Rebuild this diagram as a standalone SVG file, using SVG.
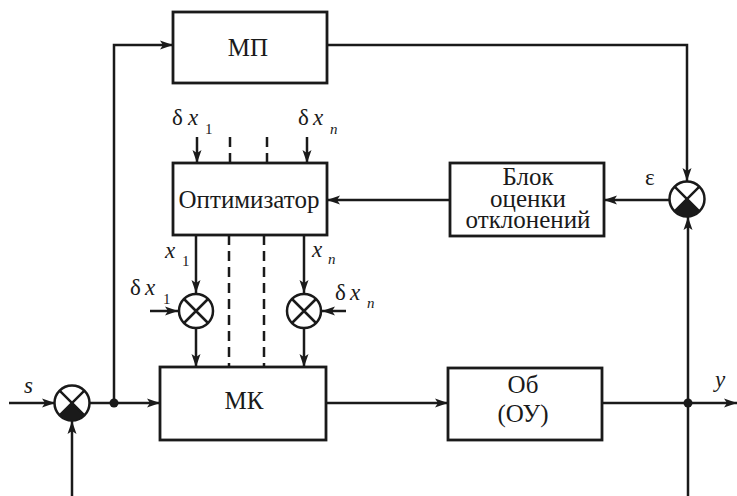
<svg xmlns="http://www.w3.org/2000/svg" width="737" height="496" viewBox="0 0 737 496">
<style>
.box{fill:#fff;stroke:#1a1a1a;stroke-width:2.8}
.ln{fill:none;stroke:#1a1a1a;stroke-width:2.5}
.dash{fill:none;stroke:#1a1a1a;stroke-width:2.5;stroke-dasharray:10,6}
.ar{marker-end:url(#ah)}
.t{font-family:"Liberation Serif","Times New Roman",serif;font-size:25px;fill:#1a1a1a;text-anchor:middle}
.m{font-family:"Liberation Serif","Times New Roman",serif;font-size:23px;fill:#1a1a1a}
.i{font-style:italic}
.sub{font-size:15px}
.cir{fill:#fff;stroke:#1a1a1a;stroke-width:2.5}
.fill{fill:#1a1a1a}
</style>
<defs>
<marker id="ah" markerUnits="userSpaceOnUse" markerWidth="14" markerHeight="10" refX="13" refY="5" orient="auto">
<path d="M0,0.5 L13,5 L0,9.5 L3,5 Z" fill="#1a1a1a"/>
</marker>
</defs>
<g id="connectors">
<line class="ln ar" x1="9" y1="403" x2="55" y2="403"/>
<line class="ln ar" x1="90" y1="403" x2="160" y2="403"/>
<polyline class="ln ar" points="114,403 114,45 173,45"/>
<polyline class="ln ar" points="327,45 687,45 687,181"/>
<line class="ln ar" x1="669" y1="200" x2="604" y2="200"/>
<line class="ln ar" x1="450" y1="200" x2="327" y2="200"/>
<line class="ln ar" x1="197" y1="137" x2="197" y2="163"/>
<line class="ln ar" x1="307" y1="137" x2="307" y2="163"/>
<line class="dash" x1="230" y1="137" x2="230" y2="163" stroke-dasharray="4,6,16"/>
<line class="dash" x1="267" y1="137" x2="267" y2="163" stroke-dasharray="4,6,16"/>
<line class="ln ar" x1="196" y1="235" x2="196" y2="293"/>
<line class="ln ar" x1="304" y1="235" x2="304" y2="293"/>
<line class="ln ar" x1="150" y1="311" x2="178" y2="311"/>
<line class="ln ar" x1="346" y1="311" x2="322" y2="311"/>
<line class="ln ar" x1="196" y1="328" x2="196" y2="367"/>
<line class="ln ar" x1="304" y1="328" x2="304" y2="367"/>
<line class="dash" x1="229" y1="235" x2="229" y2="367"/>
<line class="dash" x1="264" y1="235" x2="264" y2="367"/>
<line class="ln ar" x1="326" y1="403" x2="448" y2="403"/>
<line class="ln ar" x1="602" y1="403" x2="737" y2="403"/>
<line class="ln ar" x1="688" y1="496" x2="688" y2="217"/>
<line class="ln ar" x1="72" y1="496" x2="72" y2="421"/>
<circle cx="114" cy="403" r="4.5" class="fill"/>
<circle cx="688" cy="403" r="4.5" class="fill"/>
</g>
<g id="mp">
<rect class="box" x="173" y="12" width="154" height="71"/>
<text class="t" x="248" y="56">МП</text>
</g>
<g id="optimizer">
<rect class="box" x="173" y="163" width="154" height="72"/>
<text class="t" x="249" y="208">Оптимизатор</text>
</g>
<g id="block">
<rect class="box" x="450" y="163" width="154" height="73"/>
<text class="t" x="528" y="185">Блок</text>
<text class="t" x="528" y="207">оценки</text>
<text class="t" x="528" y="228">отклонений</text>
</g>
<g id="mk">
<rect class="box" x="160" y="367" width="166" height="73"/>
<text class="t" x="244" y="409">МК</text>
</g>
<g id="ob">
<rect class="box" x="448" y="368" width="154" height="72"/>
<text class="t" x="523" y="393">Об</text>
<text class="t" x="523" y="422">(ОУ)</text>
</g>
<g id="sum-main">
<circle class="cir" cx="72" cy="403" r="17.5"/>
<path class="fill" d="M72,403 L84.4,415.4 A17.5,17.5 0 0 1 59.6,415.4 Z"/>
<path class="ln" d="M59.6,390.6 L84.4,415.4 M84.4,390.6 L59.6,415.4"/>
</g>
<g id="sum-eps">
<circle class="cir" cx="687" cy="199" r="17.5"/>
<path class="fill" d="M687,199 L699.4,211.4 A17.5,17.5 0 0 1 674.6,211.4 Z"/>
<path class="ln" d="M674.6,186.6 L699.4,211.4 M699.4,186.6 L674.6,211.4"/>
</g>
<g id="sum-x1">
<circle class="cir" cx="196" cy="311" r="17"/>
<path class="ln" d="M184,299 L208,323 M208,299 L184,323"/>
</g>
<g id="sum-xn">
<circle class="cir" cx="304" cy="311" r="17"/>
<path class="ln" d="M292,299 L316,323 M316,299 L292,323"/>
</g>
<g id="labels">
<text class="m" x="172" y="125">δ</text><text class="m i" x="188" y="125">x</text><text class="m sub" x="205" y="134">1</text>
<text class="m" x="298" y="125">δ</text><text class="m i" x="313" y="125">x</text><text class="m sub i" x="330" y="134">n</text>
<text class="m i" x="165" y="258">x</text><text class="m sub" x="182" y="266">1</text>
<text class="m i" x="312" y="257">x</text><text class="m sub i" x="328" y="264">n</text>
<text class="m" x="130" y="295">δ</text><text class="m i" x="145" y="295">x</text><text class="m sub" x="163" y="304">1</text>
<text class="m" x="335" y="300">δ</text><text class="m i" x="350" y="300">x</text><text class="m sub i" x="367" y="308">n</text>
<text class="m i" x="24" y="393">s</text>
<text class="m i" x="715" y="387">y</text>
<text class="m" x="645" y="185">ε</text>
</g>
</svg>
